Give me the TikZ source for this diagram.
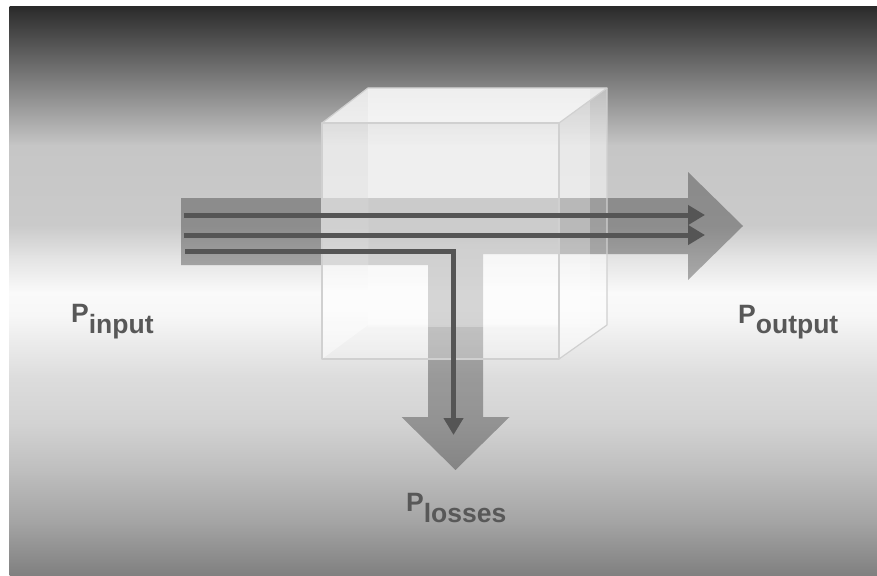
\documentclass[tikz,border=0pt]{standalone}
\usepackage{fontspec}
\setmainfont{Liberation Sans}
\usetikzlibrary{arrows.meta}

% background gradient stops (grey levels)
\definecolor{bgA}{RGB}{43,43,43}
\definecolor{bgB}{RGB}{198,198,198}
\definecolor{bgC}{RGB}{202,202,202}
\definecolor{bgD}{RGB}{226,226,226}
\definecolor{bgE}{RGB}{250,250,250}
\definecolor{bgF}{RGB}{247,247,247}
\definecolor{bgG}{RGB}{221,221,221}
\definecolor{bgH}{RGB}{210,210,210}
\definecolor{bgI}{RGB}{188,188,188}
\definecolor{bgJ}{RGB}{162,162,162}
\definecolor{bgK}{RGB}{128,128,128}

\definecolor{labelgray}{RGB}{88,88,88}
\definecolor{linegray}{RGB}{85,85,85}
\definecolor{edgegray}{RGB}{208,208,208}

\tikzset{
  flowline/.style={draw=linegray, line width=5pt, line join=miter,
    -{Triangle[length=17pt,width=19pt]}},
  powerlabel/.style={text=labelgray, inner sep=0pt, anchor=base west,
    font=\fontsize{26.5}{30}\selectfont\bfseries},
  cubeedge/.style={draw=edgegray, line width=1.2pt, line join=round},
  glass/.style={fill=white, fill opacity=#1},
  flowband/.style={fill=black, fill opacity=0.3}
}

\begin{document}
\begin{tikzpicture}[x=1pt,y=-1pt]
  \useasboundingbox (0,0) rectangle (877,575);
  \fill[white] (0,0) rectangle (877,575);

  % vertical background gradient, built from stacked bands
  \shade[top color=bgA, bottom color=bgB] (9.5,7) rectangle (877,146);
  \shade[top color=bgB, bottom color=bgC] (9.5,145) rectangle (877,226);
  \shade[top color=bgC, bottom color=bgD] (9.5,225) rectangle (877,256);
  \shade[top color=bgD, bottom color=bgE] (9.5,255) rectangle (877,293);
  \shade[top color=bgE, bottom color=bgF] (9.5,292) rectangle (877,316);
  \shade[top color=bgF, bottom color=bgG] (9.5,315) rectangle (877,376);
  \shade[top color=bgG, bottom color=bgH] (9.5,375) rectangle (877,426);
  \shade[top color=bgH, bottom color=bgI] (9.5,425) rectangle (877,476);
  \shade[top color=bgI, bottom color=bgJ] (9.5,475) rectangle (877,526);
  \shade[top color=bgJ, bottom color=bgK] (9.5,525) rectangle (877,575);

  % cube corners
  \coordinate (ftl) at (322,123);
  \coordinate (ftr) at (559,123);
  \coordinate (fbr) at (559,359);
  \coordinate (fbl) at (322,359);
  \coordinate (btl) at (368,88);
  \coordinate (btr) at (607,88);
  \coordinate (bbr) at (607,325);
  \coordinate (bbl) at (368,325);

  % rear glass of the cube
  \path[glass=0.48] (btl) -- (btr) -- (bbr) -- (fbr) -- (559,325) -- (bbl) -- cycle;

  % broad power flow: input band, output arrow, loss arrow
  \path[flowband] (181,198) -- (688,198) -- (688,172) -- (743,226)
    -- (688,280) -- (688,254) -- (483,254) -- (483,417) -- (509.5,417)
    -- (455.5,470) -- (401.5,417) -- (428,417) -- (428,265) -- (181,265) -- cycle;

  % front glass of the cube
  \path[glass=0.44] (ftl) -- (btl) -- (bbl) -- (fbl) -- cycle;
  \path[glass=0.28] (btl) rectangle (590,327);
  \path[glass=0.28] (ftl) rectangle (fbr);
  \path[glass=0.65] (ftl) -- (btl) -- (btr) -- (ftr) -- cycle;

  % cube edges
  \draw[cubeedge] (ftl) rectangle (fbr);
  \draw[cubeedge] (ftl) -- (btl) -- (btr) -- (ftr);
  \draw[cubeedge] (btr) -- (bbr) -- (fbr);

  % thin flow lines
  \coordinate (la) at (184,215);
  \coordinate (lae) at (705,215);
  \coordinate (lb) at (184,235);
  \coordinate (lbe) at (705,235);
  \coordinate (lc) at (185,251.5);
  \coordinate (lcb) at (453.5,251.5);
  \coordinate (lce) at (453.5,435);
  \draw[flowline] (la) -- (lae);
  \draw[flowline] (lb) -- (lbe);
  \draw[flowline, line width=4.7pt] (lc) -- (lcb) -- (lce);

  % labels
  \node[powerlabel] (pin) at (71,322) {P\raisebox{-11pt}{input}};
  \node[powerlabel] (pout) at (738,323) {P\raisebox{-10pt}{output}};
  \node[powerlabel] (ploss) at (406,511) {P\raisebox{-11pt}{losses}};
\end{tikzpicture}
\end{document}
